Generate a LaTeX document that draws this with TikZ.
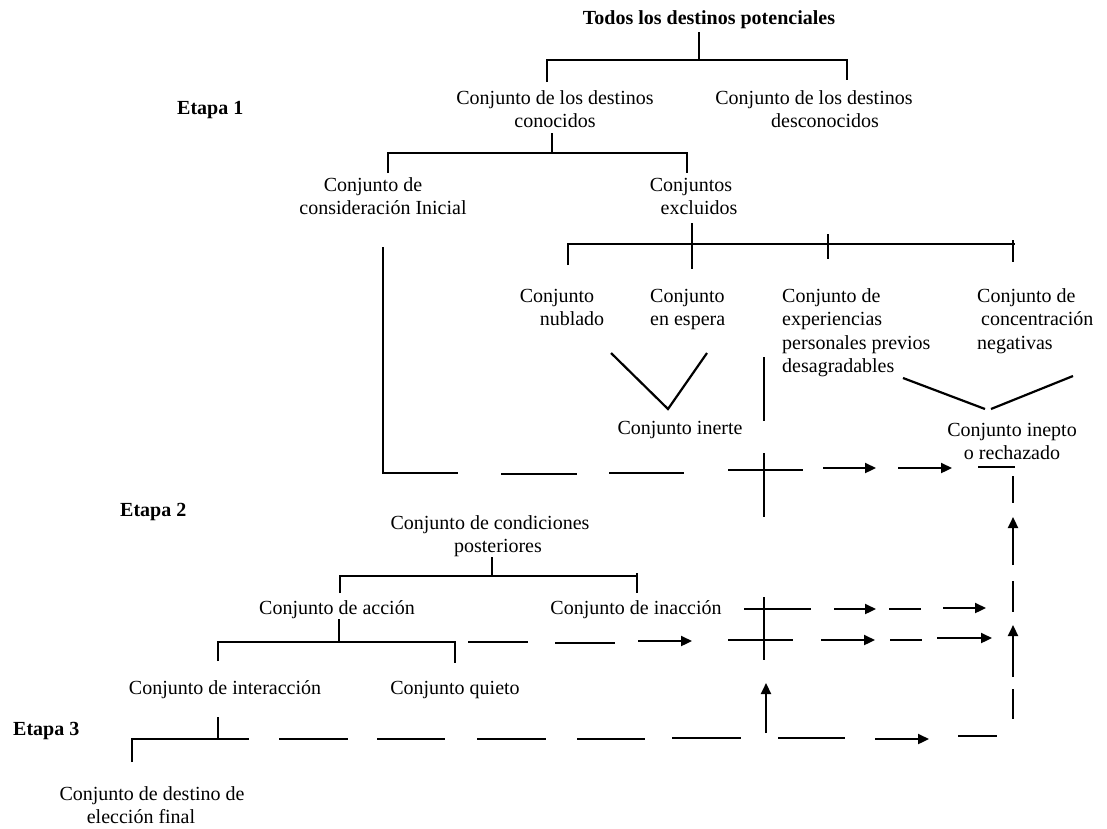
\documentclass[tikz,border=0pt]{standalone}
\usepackage{fontspec}
\setmainfont{Liberation Serif}
\usetikzlibrary{arrows.meta}
\begin{document}
\begin{tikzpicture}[x=1pt,y=-1pt,
  lbl/.style={font=\fontsize{20}{23.5}\selectfont, inner sep=0pt, align=center, anchor=base},
  lbll/.style={font=\fontsize{20}{23.5}\selectfont, inner sep=0pt, align=left, anchor=base west},
  bld/.style={font=\fontsize{20}{23.5}\selectfont\bfseries, inner sep=0pt, anchor=base},
  ln/.style={line width=2.2pt},
  arr/.style={line width=2.2pt, -{Triangle[length=11pt,width=10pt]}}]
\useasboundingbox (0,0) rectangle (1107,828);
% texts (base anchor = baseline of last line)
\node[bld] (title) at (709,24) {Todos los destinos potenciales};
\node[bld, anchor=base west] (etapa1) at (177,114) {Etapa 1};
\node[bld, anchor=base west] (etapa2) at (120,516) {Etapa 2};
\node[bld, anchor=base west] (etapa3) at (13,735) {Etapa 3};
\node[lbl] (known) at (555,127.5) {Conjunto de los destinos\\conocidos};
\node[lbl] (unknown) at (814,127.5) {Conjunto de los destinos\\\hspace*{22pt}desconocidos};
\node[lbl] (initial) at (383,214.5) {Conjunto de\hspace*{20pt}\\consideración Inicial};
\node[lbl] (excluded) at (699,214.5) {Conjuntos\hspace*{16pt}\\excluidos};
\node[lbl] (nublado) at (572,325.5) {Conjunto\hspace*{30pt}\\nublado};
\node[lbll] (espera) at (650,325.5) {Conjunto\\en espera};
\node[lbll] (experiencias) at (782,372.5) {Conjunto de\\experiencias\\personales previos\\desagradables};
\node[lbll] (concentracion) at (977,349) {Conjunto de\\\hspace*{4pt}concentración\\negativas};
\node[lbl] (inerte) at (680,434) {Conjunto inerte};
\node[lbl] (inepto) at (1012,459.5) {Conjunto inepto\\o rechazado};
\node[lbl] (condiciones) at (498,552.5) {Conjunto de condiciones\hspace*{16pt}\\posteriores};
\node[lbl] (accion) at (337,614) {Conjunto de acción};
\node[lbl] (inaccion) at (636,614) {Conjunto de inacción};
\node[lbl] (interaccion) at (225,694) {Conjunto de interacción};
\node[lbl] (quieto) at (455,694) {Conjunto quieto};
\node[lbl] (final) at (152,823.5) {Conjunto de destino de\\elección final\hspace*{22pt}};
% top brackets
\draw[ln] (699,32)--(699,60);
\draw[ln] (547,82)--(547,60)--(847,60)--(847,80);
\draw[ln] (552,133)--(552,153);
\draw[ln] (388,173)--(388,153)--(687,153)--(687,173);
\draw[ln] (692,223)--(692,269);
\draw[ln] (568,265)--(568,244)--(1015,244);
\draw[ln] (828,234)--(828,259);
\draw[ln] (1013,240)--(1013,262);
\draw[ln] (611,353)--(668,409)--(707,353);
\draw[ln] (764,357)--(764,421);
\draw[ln] (903,378)--(985,409);
\draw[ln] (991,409)--(1073,376);
% row at 470
\draw[ln] (383,247)--(383,473)--(458,473);
\draw[ln] (501,474)--(577,474);
\draw[ln] (609,473)--(684,473);
\draw[ln] (728,470)--(803,470);
\draw[ln] (764,453)--(764,517);
\draw[arr] (823,468)--(876,468);
\draw[arr] (898,468)--(952,468);
\draw[ln] (978,467)--(1015,467);
\draw[ln] (1013,476)--(1013,503);
\draw[arr] (1013,565)--(1013,517);
\draw[ln] (1013,581)--(1013,612);
\draw[arr] (1013,677)--(1013,625);
\draw[ln] (1013,689)--(1013,719);
% middle
\draw[ln] (492,557)--(492,576);
\draw[ln] (340,593)--(340,576)--(637,576);
\draw[ln] (637,573)--(637,593);
\draw[ln] (339,619)--(339,642);
\draw[ln] (218,661)--(218,642)--(455,642)--(455,663);
\draw[ln] (468,642)--(528,642);
\draw[ln] (555,643)--(615,643);
\draw[arr] (638,641)--(692,641);
\draw[ln] (744,609)--(811,609);
\draw[ln] (764,597)--(764,660);
\draw[ln] (728,640)--(793,640);
\draw[arr] (834,609)--(876,609);
\draw[ln] (889,609)--(921,609);
\draw[arr] (943,608)--(986,608);
\draw[arr] (821,640)--(875,640);
\draw[ln] (890,640)--(922,640);
\draw[arr] (937,638)--(992,638);
% bottom
\draw[ln] (218,717)--(218,739);
\draw[ln] (132,762)--(132,739)--(249,739);
\draw[ln] (279,739)--(348,739);
\draw[ln] (377,739)--(445,739);
\draw[ln] (477,739)--(546,739);
\draw[ln] (577,739)--(645,739);
\draw[ln] (672,738)--(741,738);
\draw[ln] (778,738)--(845,738);
\draw[arr] (875,739)--(929,739);
\draw[ln] (958,736)--(997,736);
\draw[arr] (766,733)--(766,683);
\end{tikzpicture}
\end{document}
